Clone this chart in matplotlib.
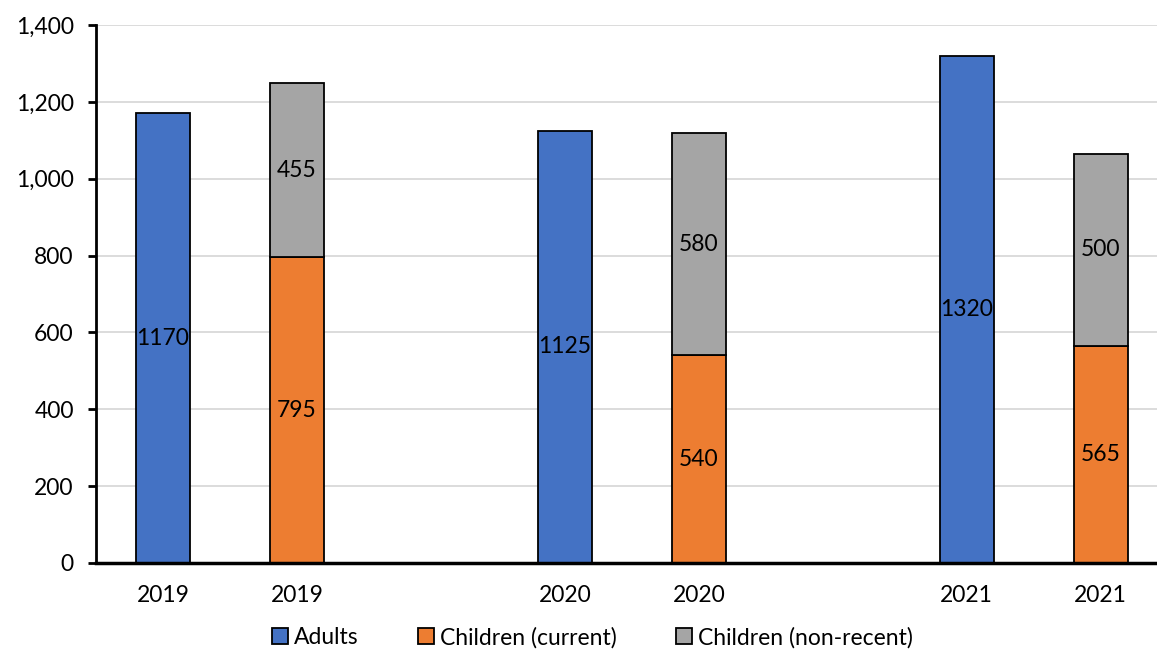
import numpy as np
import matplotlib
matplotlib.use('Agg')
import matplotlib.pyplot as plt

plt.rcParams['font.family'] = ['Lato', 'DejaVu Sans']

# dados
anos = ['2019', '2019', '2020', '2020', '2021', '2021']
posicoes = [0, 1, 3, 4, 6, 7]
adultos = [1170, 1125, 1320]
criancas_atual = [795, 540, 565]
criancas_antigo = [455, 580, 500]

azul = '#4472C4'
laranja = '#ED7D31'
cinza = '#A5A5A5'

fig = plt.figure(figsize=(11.57, 6.5), dpi=100)
ax = fig.add_axes([0.083, 0.134, 0.917, 0.8275])

pos_adultos = posicoes[0::2]
pos_criancas = posicoes[1::2]
largura = 0.4
tam = 16.5

b1 = ax.bar(pos_adultos, adultos, largura, color=azul, edgecolor='black', linewidth=1.3,
            label='Adults', zorder=3)
b2 = ax.bar(pos_criancas, criancas_atual, largura, color=laranja, edgecolor='black', linewidth=1.3,
            label='Children (current)', zorder=3)
b3 = ax.bar(pos_criancas, criancas_antigo, largura, bottom=criancas_atual, color=cinza,
            edgecolor='black', linewidth=1.3, label='Children (non-recent)', zorder=3)

ax.bar_label(b1, label_type='center', fontsize=tam)
ax.bar_label(b2, label_type='center', fontsize=tam)
ax.bar_label(b3, label_type='center', fontsize=tam)

ax.set_xlim(-0.5, 7.42)
ax.set_ylim(0, 1400)
ax.set_yticks(np.arange(0, 1401, 200))
ax.set_yticklabels([f'{v:,}' for v in range(0, 1401, 200)], fontsize=tam)
ax.set_xticks(posicoes)
ax.set_xticklabels(anos, fontsize=tam)
ax.tick_params(axis='x', length=0, pad=16)
ax.tick_params(axis='y', length=6, width=2, pad=10)

ax.grid(axis='y', color='#d9d9d9', linewidth=1.3, zorder=0)
for lado in ['top', 'right']:
    ax.spines[lado].set_visible(False)
ax.spines['left'].set_linewidth(2)
ax.spines['bottom'].set_linewidth(2.5)
ax.spines['bottom'].set_zorder(4)

ax.legend(loc='upper center', bbox_to_anchor=(0.468, -0.102), ncol=3, frameon=False,
          fontsize=tam, handlelength=0.7, handleheight=0.7, handletextpad=0.25,
          columnspacing=2.6, borderaxespad=0)

plt.savefig('out.png', dpi=100)
